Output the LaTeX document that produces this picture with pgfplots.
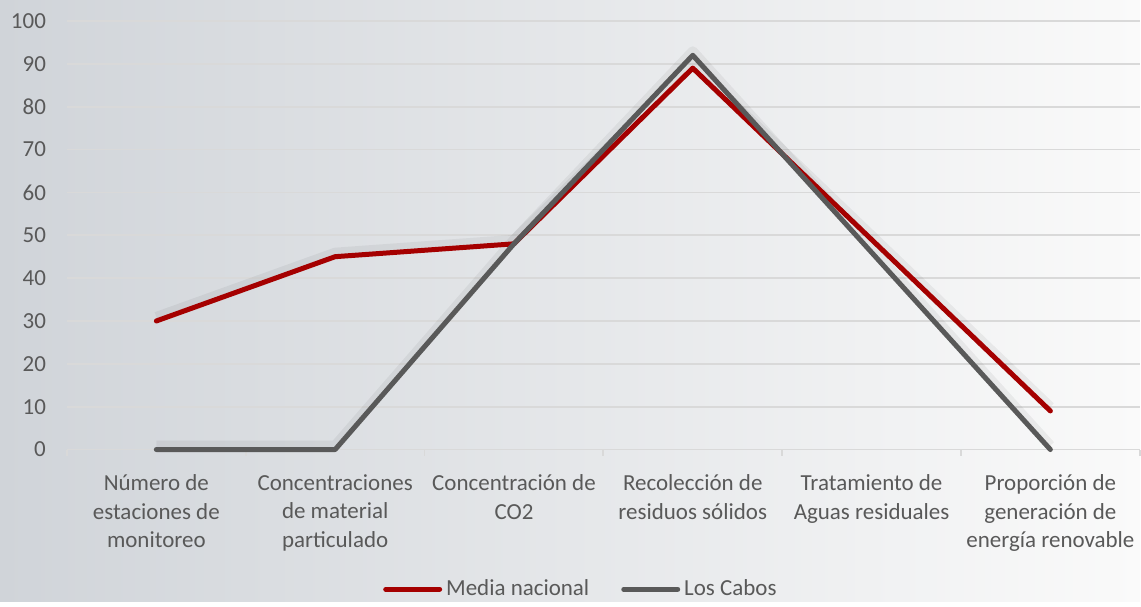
\documentclass[border=0pt]{standalone}
\usepackage{fontspec}
\setmainfont{Carlito}
\usepackage{pgfplots}
\pgfplotsset{compat=1.18}
\usetikzlibrary{backgrounds}

\definecolor{mnred}{RGB}{165,0,0}
\definecolor{lcgray}{RGB}{89,89,89}
\definecolor{txtgray}{RGB}{89,89,89}
\definecolor{gridgray}{RGB}{217,217,217}
\definecolor{bgleft}{RGB}{208,212,217}
\definecolor{bgmid}{RGB}{240,241,242}
\definecolor{bgright}{RGB}{250,250,250}

\begin{document}
\begin{tikzpicture}
\begin{axis}[
  width=537pt, height=214.5pt, scale only axis,
  xmin=-0.5, xmax=5.5, ymin=0, ymax=100,
  xtick={0,...,5},
  xticklabels={
    {Número de\\estaciones de\\monitoreo},
    {Concentraciones\\de material\\particulado},
    {Concentración de\\CO2},
    {Recolección de\\residuos sólidos},
    {Tratamiento de\\Aguas residuales},
    {Proporción de\\generación de\\energía renovable}},
  minor xtick={-0.5,0.5,...,5.5},
  ytick={0,10,...,100},
  ymajorgrids, grid style={gridgray, line width=0.9pt},
  axis x line*=bottom, axis y line*=left,
  x axis line style={gridgray, line width=0.9pt, -},
  y axis line style={draw=none},
  major tick length=0pt, minor tick length=3pt, tick align=outside,
  minor x tick style={gridgray, line width=0.9pt},
  font=\fontsize{11.5}{14.3}\selectfont,
  tick label style={text=txtgray},
  /pgf/number format/assume math mode=true,
  yticklabel style={xshift=-7pt},
  xticklabel style={align=center, yshift=-9pt},
  legend style={at={(0.48,-0.326)}, anchor=center, draw=none, fill=none,
    legend columns=2, text=txtgray,
    /tikz/every even column/.append style={column sep=14pt}},
  legend image code/.code={\draw[#1] (0pt,0pt) -- (27pt,0pt);},
  clip=false,
]
% soft shadows
\addplot[forget plot, black, opacity=0.05, line width=5pt, line join=round, yshift=2pt]
  coordinates {(0,30) (1,45) (2,48) (3,89) (4,49) (5,9)};
\addplot[forget plot, black, opacity=0.05, line width=5pt, line join=round, yshift=2pt]
  coordinates {(0,0) (1,0) (2,48) (3,92) (4,46) (5,0)};

\addplot[mnred, line width=2.5pt, line join=round, line cap=round]
  coordinates {(0,30) (1,45) (2,48) (3,89) (4,49) (5,9)};
\addlegendentry{Media nacional}

\addplot[lcgray, line width=2.5pt, line join=round, line cap=round]
  coordinates {(0,0) (1,0) (2,48) (3,92) (4,46) (5,0)};
\addlegendentry{Los Cabos}

\coordinate (bgsw) at (rel axis cs:-0.0624,-0.354);
\coordinate (bgne) at (rel axis cs:1,1.049);
\end{axis}
\begin{scope}[on background layer]
  \shade[left color=bgleft, middle color=bgmid, right color=bgright]
    (bgsw) rectangle (bgne);
\end{scope}
\end{tikzpicture}
\end{document}
